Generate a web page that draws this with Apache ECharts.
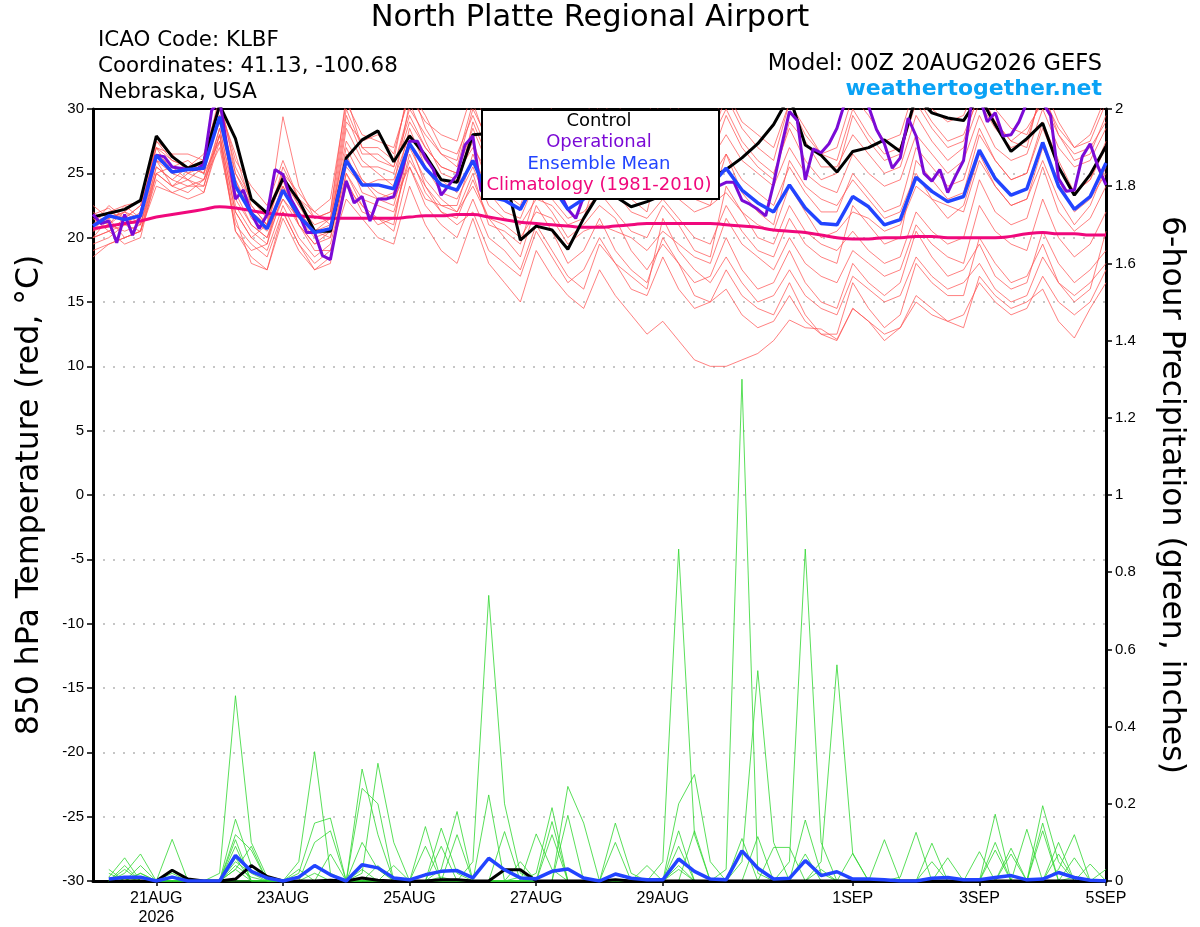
<!DOCTYPE html>
<html>
<head>
<meta charset="utf-8">
<script src="https://cdn.jsdelivr.net/npm/echarts@6/dist/echarts.min.js"></script>
<style>
html, body { margin: 0; padding: 0; background: #fff; }
#chart { width: 1200px; height: 927px; }
</style>
</head>
<body>
<div id="chart"></div>
<script>
// forecast hours of the x axis labels (00Z 20AUG2026 = 0)
var tickHours = [24, 72, 120, 168, 216, 288, 336, 384];
var tickLabels = ['21AUG\n2026', '23AUG', '25AUG', '27AUG', '29AUG', '1SEP', '3SEP', '5SEP'];

// 850 hPa temperature, 6-hourly (65 values)
var control = [
    21.6, 21.9, 22.2, 22.9, 27.9, 26.3, 25.4, 25.9, 30.3, 27.7, 23.0, 21.9,
    24.6, 22.9, 20.5, 20.5, 26.2, 27.6, 28.3, 25.9, 27.9, 26.4, 24.5, 24.3,
    28.0, 28.1, 25.0, 19.8, 20.9, 20.6, 19.1, 21.5, 23.5, 23.2, 22.4, 22.8,
    23.3, 23.7, 24.1, 24.6, 25.3, 26.2, 27.3, 28.8, 31.0, 27.2, 26.4, 25.1,
    26.7, 27.0, 27.6, 26.7, 31.0, 29.7, 29.3, 29.1, 31.0, 28.8, 26.7, 27.7,
    28.9, 25.5, 23.3, 24.9, 27.1
];
var ensMean = [
    20.9, 21.7, 21.4, 21.7, 26.4, 25.1, 25.3, 25.4, 29.4, 24.0, 21.9, 20.7,
    23.7, 21.7, 20.4, 20.7, 26.0, 24.1, 24.1, 23.8, 27.3, 25.4, 24.1, 23.7,
    26.0, 23.2, 22.9, 22.2, 24.5, 24.0, 22.2, 23.0, 24.0, 24.5, 25.0, 24.5,
    25.0, 24.5, 24.0, 24.0, 25.4, 23.7, 22.7, 22.0, 24.1, 22.3, 21.1, 21.0,
    23.2, 22.4, 21.0, 21.4, 24.7, 23.6, 22.8, 23.2, 26.8, 24.6, 23.3, 23.8,
    27.4, 24.0, 22.2, 23.2, 25.8
];
var climatology = [
    20.7, 20.9, 21.1, 21.3, 21.6, 21.8, 22.0, 22.2, 22.4, 22.3, 22.1, 21.9,
    21.8, 21.7, 21.6, 21.5, 21.5, 21.5, 21.5, 21.5, 21.6, 21.7, 21.7, 21.8,
    21.8, 21.6, 21.4, 21.2, 21.1, 21.0, 20.9, 20.8, 20.8, 20.9, 21.0, 21.1,
    21.1, 21.1, 21.1, 21.1, 21.0, 20.9, 20.8, 20.6, 20.5, 20.4, 20.2, 20.0,
    19.9, 19.9, 20.0, 20.0, 20.1, 20.1, 20.0, 20.0, 20.0, 20.0, 20.1, 20.3,
    20.4, 20.3, 20.3, 20.2, 20.2
];
// operational run, 3-hourly (129 values)
var operational = [
    21.8, 21.1, 21.3, 19.6, 21.8, 20.2, 21.8, 24.2, 26.4, 26.3, 25.5, 25.4,
    25.3, 25.3, 25.7, 29.9, 30.7, 26.8, 23.0, 23.7, 21.9, 20.7, 21.8, 25.3,
    24.9, 23.0, 21.9, 20.4, 20.4, 18.6, 18.3, 21.5, 24.4, 22.7, 23.2, 21.3,
    23.0, 23.0, 23.2, 25.1, 27.5, 27.5, 26.2, 25.3, 23.3, 24.1, 24.9, 27.2,
    27.9, 23.7, 23.0, 24.5, 26.0, 27.0, 28.0, 27.0, 26.0, 25.0, 24.5, 23.5,
    22.2, 21.5, 23.2, 25.0, 26.5, 27.0, 26.0, 25.0, 24.5, 24.0, 25.0, 26.0,
    27.5, 28.0, 27.0, 26.0, 25.0, 24.5, 24.2, 24.0, 24.3, 24.3, 22.9, 22.6,
    22.2, 21.7, 24.2, 27.1, 29.8, 29.1, 24.5, 26.9, 26.6, 27.3, 28.5, 30.5,
    31.5, 31.0, 30.2, 28.4, 27.3, 25.4, 26.2, 29.3, 27.9, 25.0, 24.4, 25.3,
    23.5, 24.8, 26.0, 30.5, 31.0, 29.0, 29.7, 27.9, 28.0, 29.0, 30.5, 31.0,
    30.5, 29.5, 24.6, 23.6, 23.7, 26.3, 27.3, 25.5, 24.1
];

// ensemble member temperatures, 6-hourly (one day per row)
var tempMembers = [
    [21.5,22.0,22.5,22.8, 27.5,26.0,25.5,26.5, 30.5,25.5,23.0,22.0, 25.0,23.5,22.0,23.0,
     30.5,28.0,27.5,27.0, 31.0,29.0,28.0,27.5, 31.5,28.5,27.0,26.5, 31.0,30.0,28.5,29.0,
     32.0,30.5,29.0,29.5, 32.0,30.0,29.5,28.5, 31.5,29.0,28.0,27.0, 30.5,28.0,26.5,27.0,
     31.0,29.5,27.5,28.0, 32.0,30.0,29.0,29.5, 32.5,30.0,28.5,28.0, 31.0,28.5,27.0,27.5, 30.5],
    [20.0,20.5,19.5,20.0, 25.0,24.0,23.5,24.5, 27.0,21.0,19.5,18.5, 22.0,19.5,18.0,19.0,
     23.0,21.5,20.0,19.5, 24.0,21.0,19.0,18.0, 21.5,18.0,16.5,15.0, 19.0,17.0,15.5,14.5,
     17.5,15.5,14.0,12.5, 13.5,12.0,10.5,10.0, 10.0,10.5,11.0,12.0, 13.6,13.0,12.9,12.1,
     14.5,13.5,12.5,13.0, 15.0,14.0,13.5,14.0, 16.5,15.0,14.0,14.5, 17.0,15.0,14.0,15.0, 17.5],
    [19.0,19.5,20.0,20.5, 24.5,23.5,24.0,24.0, 28.0,22.0,20.0,19.0, 22.5,20.0,18.5,19.5,
     24.5,22.0,21.5,20.5, 25.5,22.5,21.0,20.0, 23.0,20.0,19.0,17.5, 21.0,19.0,17.0,16.0,
     19.5,18.0,16.0,15.5, 18.5,16.0,14.5,15.0, 17.5,15.5,14.5,14.0, 16.5,14.0,12.5,12.0,
     14.5,13.5,12.0,13.0, 15.5,14.5,13.5,13.0, 17.0,15.5,14.5,15.0, 16.0,13.5,12.2,14.5, 16.5],
    [21.0,22.5,21.5,22.5, 26.5,25.5,26.0,25.0, 29.5,25.0,23.0,21.5, 24.5,22.5,21.0,21.5,
     27.5,25.5,25.5,25.0, 29.0,27.0,25.5,25.0, 28.5,25.5,24.5,24.0, 27.0,26.0,24.5,25.5,
     28.5,27.5,26.0,25.5, 27.0,26.5,25.5,26.0, 28.0,26.0,25.0,24.0, 27.0,25.0,24.0,23.5,
     26.5,25.0,24.0,24.5, 28.0,26.5,25.0,26.0, 29.5,27.0,26.0,26.5, 30.0,27.0,25.5,26.0, 28.5],
    [20.5,21.0,20.5,21.0, 25.5,24.5,24.0,24.5, 28.5,23.0,21.0,20.0, 23.0,21.0,19.5,20.0,
     25.0,23.0,22.5,22.0, 26.0,24.0,22.5,22.0, 24.0,21.5,21.0,20.0, 22.0,21.5,19.5,20.5,
     21.0,20.5,20.0,19.0, 20.5,19.5,18.5,18.0, 21.5,19.5,18.5,17.5, 20.0,18.0,17.0,16.5,
     19.0,18.0,17.0,17.5, 21.0,19.5,18.5,18.0, 22.5,20.5,19.5,19.0, 23.0,20.0,18.5,19.5, 22.0],
    [22.0,21.0,22.0,21.5, 27.0,26.5,25.0,26.0, 30.0,26.5,22.5,21.0, 29.4,24.0,21.5,22.0,
     31.0,27.0,26.0,25.5, 30.0,28.0,26.5,26.0, 30.5,27.0,25.5,24.5, 29.0,27.5,26.0,27.0,
     30.5,29.5,27.5,28.0, 31.0,29.0,28.0,27.5, 30.0,27.5,26.0,25.0, 28.5,26.0,24.5,25.0,
     29.5,27.5,26.0,26.5, 30.5,28.5,27.0,27.5, 31.5,29.0,27.5,27.0, 32.0,29.0,27.0,28.0, 31.0],
    [21.5,20.5,21.0,20.5, 25.0,25.5,24.5,23.5, 28.0,20.5,18.5,17.5, 21.5,19.0,17.5,18.0,
     26.5,23.5,23.0,22.5, 27.0,24.5,23.0,22.0, 25.0,21.0,20.5,19.5, 23.5,22.0,20.0,21.0,
     22.5,21.5,19.0,17.5, 19.5,18.0,16.5,17.0, 20.0,17.5,16.0,16.5, 19.0,16.5,15.0,14.5,
     18.0,16.5,15.5,16.5, 20.5,18.5,17.0,17.5, 19.5,17.0,16.0,16.5, 20.5,18.0,16.5,17.5, 19.0],
    [21.8,22.3,21.0,22.0, 26.0,25.0,25.5,26.0, 29.0,24.5,21.5,20.5, 23.0,21.5,20.0,20.5,
     28.5,26.0,25.0,24.0, 30.5,27.5,25.0,24.5, 27.5,24.0,23.5,22.5, 26.0,25.5,23.0,24.0,
     26.5,25.0,24.0,23.0, 24.5,23.0,22.0,22.5, 23.5,22.0,21.0,20.5, 24.0,22.0,20.0,20.5,
     22.0,21.5,20.5,21.0, 24.0,23.0,22.5,22.0, 26.0,24.0,22.5,23.0, 27.0,24.5,22.0,23.0, 25.0],
    [20.0,21.5,22.0,21.0, 26.0,25.5,25.0,25.5, 29.0,23.5,21.0,20.0, 24.0,22.0,20.5,20.0,
     25.5,24.0,24.5,24.5, 28.0,26.0,24.5,23.5, 29.0,26.0,24.5,23.0, 28.0,27.0,25.0,24.5,
     25.0,23.5,22.0,21.5, 23.0,21.5,20.0,19.5, 22.5,20.5,19.0,18.5, 21.5,19.5,18.5,18.0,
     22.5,21.0,19.5,20.0, 26.0,24.5,23.0,23.5, 28.0,26.0,24.5,25.0, 29.0,26.0,23.5,24.5, 27.5],
    [19.5,20.0,21.0,21.5, 26.0,24.0,24.5,24.0, 28.5,22.5,20.5,19.5, 24.5,21.0,19.0,19.0,
     24.0,22.5,21.0,21.5, 26.5,23.5,22.0,21.0, 22.0,19.0,18.0,17.0, 20.5,18.5,16.5,17.5,
     20.0,18.0,17.0,16.0, 21.5,19.0,17.5,16.5, 18.5,16.5,15.0,15.5, 17.5,15.5,14.5,14.0,
     17.0,16.0,15.0,15.5, 18.5,17.0,16.0,16.5, 18.0,16.0,15.0,15.5, 18.5,16.5,15.5,16.5, 18.0],
    [22.5,21.5,22.0,23.0, 27.0,26.0,25.5,25.0, 30.5,26.0,24.0,22.5, 26.0,23.0,22.0,21.0,
     29.0,27.5,28.0,26.5, 31.5,29.5,27.0,26.5, 29.5,26.5,25.5,25.0, 30.0,28.5,27.0,27.5,
     29.0,28.0,27.0,26.5, 28.5,27.5,26.5,26.0, 29.5,27.0,25.5,24.5, 29.0,27.5,25.5,25.5,
     28.0,26.5,25.0,25.5, 29.5,27.5,26.0,27.0, 30.5,28.5,27.0,27.5, 31.5,28.0,26.0,26.5, 29.5],
    [21.0,21.5,20.0,20.5, 25.5,24.5,25.5,25.0, 27.5,20.5,19.0,19.5, 23.5,22.0,20.5,21.0,
     27.0,24.5,23.5,23.0, 25.5,23.0,22.5,22.5, 26.5,23.5,22.0,21.5, 24.5,23.0,21.5,22.0,
     23.5,22.0,20.5,20.0, 22.5,21.0,19.0,18.5, 24.0,22.0,20.0,19.5, 22.5,20.5,19.5,19.0,
     20.5,19.0,18.0,18.5, 22.0,20.5,19.5,20.0, 24.5,22.0,21.0,21.5, 25.5,22.0,20.5,21.5, 24.0],
    [20.5,22.0,21.5,22.5, 27.0,25.0,24.5,25.5, 29.5,24.5,22.0,21.0, 25.0,22.5,20.5,21.5,
     29.5,26.5,26.5,25.5, 29.5,27.0,25.5,25.0, 27.0,25.0,24.0,23.5, 25.5,24.5,23.5,24.5,
     27.0,26.5,25.0,24.5, 26.5,26.0,25.0,24.5, 26.5,24.5,23.5,22.5, 25.5,23.5,22.0,22.0,
     25.0,23.5,22.0,22.5, 27.0,25.5,24.0,24.5, 28.5,26.0,24.5,25.0, 28.5,25.5,23.5,24.5, 27.0],
    [18.5,19.5,20.0,20.5, 24.0,23.5,23.0,23.5, 27.5,21.5,18.0,17.5, 22.0,19.5,17.5,18.5,
     25.0,22.5,21.5,21.0, 27.5,24.0,22.0,21.5, 24.5,21.5,20.0,18.5, 22.5,20.5,18.0,19.0,
     21.5,19.0,17.5,16.5, 20.0,18.0,15.5,15.0, 16.0,14.0,13.0,13.5, 15.5,13.5,12.5,12.5,
     16.5,14.5,13.0,14.0, 18.0,16.5,15.5,15.5, 20.0,18.0,16.5,17.0, 19.5,16.5,15.0,16.0, 20.5],
    [21.5,21.0,22.5,21.5, 27.5,26.5,26.5,26.0, 31.0,25.0,22.5,21.0, 25.5,23.0,21.5,22.0,
     30.0,27.0,27.0,26.0, 32.0,28.5,26.5,25.5, 30.0,27.5,26.0,25.5, 29.5,28.0,26.0,26.5,
     30.0,29.0,28.0,27.0, 29.5,28.5,27.0,27.5, 31.0,28.5,27.0,26.0, 30.5,28.5,26.5,26.0,
     30.0,28.0,26.5,27.0, 31.0,29.0,27.5,28.0, 31.0,29.0,27.5,28.5, 30.5,28.0,26.5,27.0, 29.0],
    [20.0,20.5,21.5,21.0, 25.0,24.0,25.0,24.5, 28.0,22.0,20.0,21.0, 24.0,21.0,19.5,20.5,
     26.0,24.5,23.0,23.5, 28.5,25.5,23.5,23.0, 25.5,22.5,21.5,21.0, 23.0,22.5,21.0,21.5,
     25.5,24.0,23.0,22.0, 27.0,25.0,23.0,22.5, 26.5,23.5,22.0,21.0, 26.0,24.0,23.0,22.5,
     24.5,23.0,21.5,22.0, 25.0,23.0,21.5,22.5, 26.5,24.0,22.5,23.0, 26.0,23.0,21.0,22.5, 25.5]
];

// 6-hour precipitation (inches), 6-hourly, first slot empty
var precipControl = [
    null, 0, 0, 0, 0, 0.028, 0.005, 0, 0, 0.005, 0.04, 0.012,
    0, 0, 0, 0.002, 0, 0.008, 0.002, 0, 0, 0, 0.003, 0.003,
    0, 0, 0.029, 0.029, 0, 0, 0, 0, 0, 0.003, 0, 0,
    0, 0, 0, 0, 0, 0, 0, 0, 0, 0, 0, 0,
    0, 0, 0, 0, 0, 0, 0, 0, 0, 0, 0, 0,
    0, 0, 0, 0, 0
];
var precipMean = [
    null, 0.005, 0.01, 0.01, 0, 0.01, 0, 0, 0, 0.066, 0.025, 0.008,
    0, 0.01, 0.04, 0.016, 0, 0.042, 0.034, 0.008, 0.003, 0.016, 0.025, 0.027,
    0.008, 0.059, 0.029, 0.008, 0.006, 0.025, 0.031, 0.008, 0, 0.018, 0.007, 0.003,
    0.003, 0.057, 0.025, 0.005, 0.003, 0.078, 0.033, 0.005, 0.007, 0.053, 0.014, 0.024,
    0.005, 0.005, 0.003, 0, 0, 0.007, 0.009, 0.003, 0.003, 0.009, 0.014, 0.003,
    0.005, 0.022, 0.009, 0.002, 0
];
var precipMembers = [
    [null,0,0.01,0, 0,0,0,0, 0.02,0.48,0.1,0.01, 0,0,0.02,0, 0,0,0,0, 0,0,0.01,0,
     0,0,0,0, 0,0,0,0, 0,0,0,0, 0.05,0.86,0.12,0, 0,0,0,0, 0,0,0,0,
     0,0,0.107,0, 0,0,0,0, 0,0,0,0, 0.195,0.05,0,0, 0],
    [null,0,0,0.02, 0,0,0,0, 0,0.03,0,0, 0,0.05,0.335,0.02, 0,0,0,0, 0,0,0,0,
     0.05,0.74,0.2,0.02, 0,0,0,0, 0,0,0,0, 0,0,0,0, 0.03,1.30,0.02,0, 0,0,0,0,
     0,0,0,0, 0,0,0,0, 0,0,0,0, 0,0,0.01,0, 0],
    [null,0.02,0,0, 0,0,0,0, 0,0.05,0.02,0, 0,0,0,0, 0,0.29,0.12,0, 0,0,0,0,
     0,0,0,0, 0.02,0.19,0,0, 0,0,0,0, 0,0,0,0, 0,0,0,0, 0.05,0.86,0.1,0,
     0,0,0,0, 0,0,0,0, 0,0.173,0,0, 0,0,0,0, 0],
    [null,0,0.03,0, 0,0,0,0, 0,0.06,0,0, 0,0,0,0, 0,0.02,0.305,0.1, 0,0,0,0,
     0,0,0,0.01, 0,0,0.245,0.15, 0,0,0,0, 0,0,0,0, 0,0,0,0, 0,0,0.05,0.56,
     0.07,0,0,0, 0,0,0,0, 0,0,0,0, 0,0.03,0.12,0, 0],
    [null,0,0,0.02, 0,0.108,0,0, 0,0.16,0.04,0, 0,0,0,0, 0,0.03,0,0, 0,0,0.137,0.02,
     0,0,0,0, 0,0,0,0, 0,0.15,0.02,0, 0,0,0,0, 0,0.05,0.545,0.1, 0,0,0,0,
     0,0,0,0, 0,0.098,0,0, 0,0,0,0.134, 0,0,0,0, 0],
    [null,0.01,0.06,0, 0,0,0,0, 0,0.04,0.01,0, 0,0.02,0.15,0.163, 0,0,0,0, 0,0,0.03,0.18,
     0,0,0,0, 0,0,0,0, 0,0,0,0, 0,0.2,0.276,0.05, 0,0,0,0, 0,0,0,0,
     0,0,0,0.01, 0.126,0,0,0, 0,0,0,0, 0,0.1,0,0, 0],
    [null,0,0.02,0.07, 0,0,0,0, 0,0.107,0,0, 0,0,0,0, 0,0,0.04,0, 0,0.141,0,0,
     0,0,0,0, 0.122,0.03,0,0, 0,0,0,0, 0,0.04,0,0, 0,0,0,0, 0,0.158,0.02,0,
     0,0,0,0, 0,0,0,0, 0.076,0,0,0, 0.13,0,0,0.044, 0],
    [null,0,0,0, 0,0.02,0,0, 0,0.03,0.09,0, 0,0,0,0, 0,0.1,0.03,0, 0,0,0,0,
     0,0,0.128,0, 0,0.154,0,0, 0,0,0,0, 0,0.03,0,0, 0,0,0,0.087, 0.087,0,0,0,
     0.072,0,0,0, 0,0,0,0, 0,0.08,0,0, 0,0,0,0, 0],
    [null,0,0.04,0, 0,0,0,0, 0,0.09,0,0, 0,0,0,0.07, 0,0,0,0, 0,0,0,0,
     0,0.223,0,0, 0,0,0,0, 0,0,0,0.04, 0,0.13,0,0, 0,0.11,0,0, 0,0,0,0,
     0,0,0,0, 0,0,0,0, 0,0,0.07,0, 0,0,0.06,0, 0],
    [null,0.03,0,0.04, 0,0,0,0, 0,0,0,0, 0,0.03,0,0, 0,0.24,0.2,0, 0,0.09,0,0,
     0,0,0,0.05, 0,0,0,0, 0,0,0,0, 0,0,0.13,0, 0,0,0,0, 0,0.07,0,0,
     0,0,0,0, 0,0,0.06,0, 0,0,0,0, 0,0,0,0, 0],
    [null,0,0,0, 0,0,0,0, 0,0.12,0.08,0, 0,0,0,0, 0,0,0,0.04, 0,0,0,0.12,
     0,0,0,0, 0,0,0.17,0, 0,0,0,0, 0,0,0,0, 0,0,0.115,0, 0,0,0.03,0,
     0,0,0,0, 0,0,0,0, 0,0,0.085,0, 0,0.07,0,0, 0],
    [null,0,0,0, 0,0.03,0,0, 0,0,0,0, 0,0,0.1,0.13, 0,0,0,0, 0,0,0.09,0,
     0,0,0,0, 0,0.12,0,0, 0,0.1,0,0, 0,0.09,0,0, 0,0,0,0, 0,0,0,0,
     0,0,0,0, 0,0.05,0,0, 0,0.1,0,0, 0.15,0,0,0, 0.03]
];

var FONT = 'Liberation Sans, Arial, Helvetica, sans-serif';
var WIDE = 'DejaVu Sans, Verdana, sans-serif';

function pairs(step, vals) {
    return vals.map(function (v, i) { return [i * step, v]; });
}
function thinLine(name, data, color, axis, z) {
    return {
        name: name, type: 'line', data: data, yAxisIndex: axis,
        symbol: 'none', silent: true, z: z,
        lineStyle: { color: color, width: 0.9 }
    };
}

var series = [];
tempMembers.forEach(function (m, k) {
    series.push(thinLine('member' + k, pairs(6, m), 'rgba(255,80,80,0.8)', 0, 2));
});
precipMembers.forEach(function (m, k) {
    series.push(thinLine('precip' + k, pairs(6, m), 'rgba(50,215,50,0.9)', 1, 2));
});
series.push({
    name: 'Climatology (1981-2010)', type: 'line', data: pairs(6, climatology),
    smooth: true, symbol: 'none', z: 3, lineStyle: { color: '#f0087c', width: 3 }
});
series.push({
    name: 'Control', type: 'line', data: pairs(6, control),
    symbol: 'none', z: 4, lineStyle: { color: '#000', width: 3 }
});
series.push({
    name: 'Operational', type: 'line', data: pairs(3, operational),
    symbol: 'none', z: 5, lineStyle: { color: '#7b0ad6', width: 3 }
});
series.push({
    name: 'Ensemble Mean', type: 'line', data: pairs(6, ensMean),
    symbol: 'none', z: 6, lineStyle: { color: '#2244ff', width: 3.5 }
});
series.push({
    name: 'Control precip', type: 'line', data: pairs(6, precipControl), yAxisIndex: 1,
    symbol: 'none', z: 4, lineStyle: { color: '#000', width: 3 }
});
series.push({
    name: 'Mean precip', type: 'line', data: pairs(6, precipMean), yAxisIndex: 1,
    symbol: 'none', z: 6, lineStyle: { color: '#2244ff', width: 3.5 }
});

var legendItems = [
    ['Control', '#000000'],
    ['Operational', '#7b0ad6'],
    ['Ensemble Mean', '#2244ff'],
    ['Climatology (1981-2010)', '#f0087c']
];

var graphics = [
    { type: 'text', x: 590, y: 18, style: { text: 'North Platte Regional Airport', font: '30.5px ' + WIDE, fill: '#000', textAlign: 'center', textVerticalAlign: 'middle' } },
    { type: 'text', x: 98, y: 40, style: { text: 'ICAO Code: KLBF', font: '21.4px ' + WIDE, fill: '#000', textVerticalAlign: 'middle' } },
    { type: 'text', x: 98, y: 66, style: { text: 'Coordinates: 41.13, -100.68', font: '21.4px ' + WIDE, fill: '#000', textVerticalAlign: 'middle' } },
    { type: 'text', x: 98, y: 92, style: { text: 'Nebraska, USA', font: '21.4px ' + WIDE, fill: '#000', textVerticalAlign: 'middle' } },
    { type: 'text', x: 1102, y: 64, style: { text: 'Model: 00Z 20AUG2026 GEFS', font: '22.5px ' + WIDE, fill: '#000', textAlign: 'right', textVerticalAlign: 'middle' } },
    { type: 'text', x: 1102, y: 89, style: { text: 'weathertogether.net', font: 'bold 22px ' + WIDE, fill: '#0aa2f5', textAlign: 'right', textVerticalAlign: 'middle' } },
    { type: 'rect', left: 481, top: 109, z: 100, shape: { width: 237, height: 89 }, style: { fill: '#fff', stroke: '#000', lineWidth: 2 } }
];
legendItems.forEach(function (it, k) {
    graphics.push({
        type: 'text', x: 599, y: 121 + k * 21.5, z: 101,
        style: { text: it[0], font: '18px ' + WIDE, fill: it[1], textAlign: 'center', textVerticalAlign: 'middle' }
    });
});

var chart = echarts.init(document.getElementById('chart'));
chart.setOption({
    animation: false,
    backgroundColor: '#fff',
    textStyle: { fontFamily: FONT },
    grid: { left: 93, right: 94, top: 109, bottom: 44, containLabel: false },
    xAxis: [{
        type: 'value', min: 0, max: 384,
        axisLine: { onZero: false, lineStyle: { color: '#000', width: 3 } },
        axisTick: { customValues: tickHours, length: 5, lineStyle: { color: '#000', width: 1.5 } },
        axisLabel: {
            customValues: tickHours, color: '#000', fontSize: 16, lineHeight: 19, margin: 8,
            formatter: function (v) { return tickLabels[tickHours.indexOf(v)]; }
        },
        splitLine: { show: false }
    }, {
        type: 'value', min: 0, max: 384, position: 'top',
        axisLine: { onZero: false, lineStyle: { color: '#000', width: 2 } },
        axisTick: { show: false }, axisLabel: { show: false }, splitLine: { show: false }
    }],
    yAxis: [{
        type: 'value', min: -30, max: 30, interval: 5, position: 'left',
        name: '850 hPa Temperature (red, \u00B0C)', nameLocation: 'middle', nameGap: 47,
        nameRotate: 90, nameTextStyle: { fontSize: 31.5, color: '#000', fontFamily: WIDE },
        axisLine: { show: true, onZero: false, lineStyle: { color: '#000', width: 3 } },
        axisTick: { show: true, length: 6, lineStyle: { color: '#000', width: 1.5 } },
        axisLabel: { color: '#000', fontSize: 15, margin: 9 },
        splitLine: { show: true, lineStyle: { color: '#b4b4b4', width: 1.5, type: [2, 8] } }
    }, {
        type: 'value', min: 0, max: 2, interval: 0.2, position: 'right',
        name: '6-hour Precipitation (green, inches)', nameLocation: 'middle', nameGap: 49,
        nameRotate: -90, nameTextStyle: { fontSize: 31.5, color: '#000', fontFamily: WIDE },
        axisLine: { show: true, onZero: false, lineStyle: { color: '#000', width: 3 } },
        axisTick: { show: true, length: 6, lineStyle: { color: '#000', width: 1.5 } },
        axisLabel: { color: '#000', fontSize: 15, margin: 9,
            formatter: function (v) { return String(Math.round(v * 10) / 10); } },
        splitLine: { show: false }
    }],
    graphic: graphics,
    series: series
});
</script>
</body>
</html>
